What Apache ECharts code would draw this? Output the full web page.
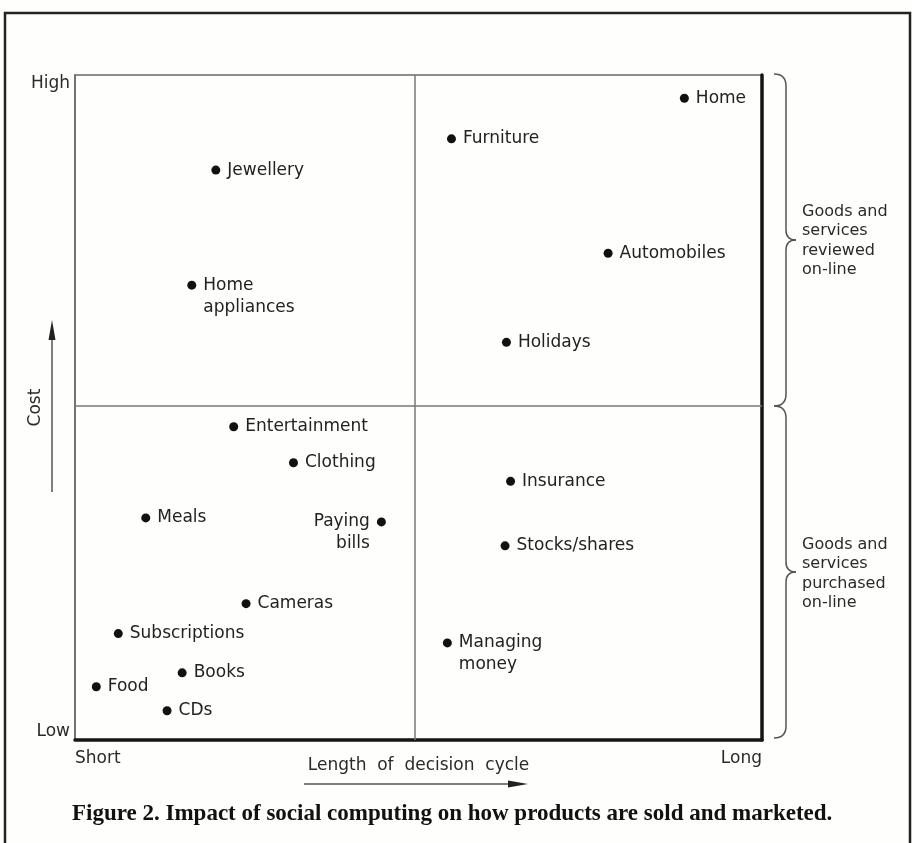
<!DOCTYPE html>
<html>
<head>
<meta charset="utf-8">
<script src="https://cdn.jsdelivr.net/npm/echarts@6/dist/echarts.min.js"></script>
<style>
  html, body { margin: 0; padding: 0; background: #fefefd; }
  #main { width: 912px; height: 843px; }
</style>
</head>
<body>
<div id="main"></div>
<script>
// products and where they sit (0-100 on both axes)
const names = ['Home', 'Furniture', 'Jewellery', 'Automobiles', 'Home\nappliances', 'Holidays',
  'Entertainment', 'Clothing', 'Insurance', 'Meals', 'Paying\nbills', 'Stocks/shares',
  'Cameras', 'Subscriptions', 'Managing\nmoney', 'Books', 'Food', 'CDs'];
const lengthVals = [88.7, 54.8, 20.5, 77.6, 17.0, 62.8, 23.1, 31.8, 63.4, 10.3, 44.6, 62.6, 24.9, 6.3, 54.2, 15.6, 3.1, 13.4];
const costVals = [96.5, 90.4, 85.7, 73.2, 68.4, 59.8, 47.1, 41.7, 38.9, 33.4, 32.8, 29.2, 20.5, 16.0, 14.6, 10.1, 8.0, 4.4];
const xTicks = ['Short', 'Long'];
const yTicks = ['Low', 'High'];
const groupLabels = ['Goods and\nservices\nreviewed\non-line', 'Goods and\nservices\npurchased\non-line'];
const caption = 'Figure 2. Impact of social computing on how products are sold and marketed.';

const FONT = '"DejaVu Sans", sans-serif';
const leftSide = ['Paying\nbills'];

let chart = echarts.init(document.getElementById('main'));

let points = names.map((n, i) => {
  let item = { name: n, value: [lengthVals[i], costVals[i]] };
  let twoLines = n.indexOf('\n') >= 0;
  item.label = {
    position: leftSide.includes(n) ? 'left' : 'right',
    offset: [0, twoLines ? 11 : 0]
  };
  return item;
});

// curly brace built from lines and curves, top..bottom at x
function brace(top, bottom, x) {
  let mid = (top + bottom) / 2;
  let st = { fill: 'none', stroke: '#555', lineWidth: 1.5 };
  return [
    { type: 'bezierCurve', shape: { x1: x - 12, y1: top, x2: x, y2: top + 12, cpx1: x, cpy1: top }, style: st },
    { type: 'line', shape: { x1: x, y1: top + 12, x2: x, y2: mid - 10 }, style: st },
    { type: 'bezierCurve', shape: { x1: x, y1: mid - 10, x2: x + 10, y2: mid, cpx1: x, cpy1: mid }, style: st },
    { type: 'bezierCurve', shape: { x1: x + 10, y1: mid, x2: x, y2: mid + 10, cpx1: x, cpy1: mid }, style: st },
    { type: 'line', shape: { x1: x, y1: mid + 10, x2: x, y2: bottom - 12 }, style: st },
    { type: 'bezierCurve', shape: { x1: x, y1: bottom - 12, x2: x - 12, y2: bottom, cpx1: x, cpy1: bottom }, style: st }
  ];
}

let option = {
  backgroundColor: '#fefefd',
  animation: false,
  grid: { left: 75, top: 75, right: 150, bottom: 103, show: true, borderColor: '#6a6a6a', borderWidth: 1.5 },
  xAxis: {
    type: 'value', min: 0, max: 100, interval: 100,
    splitLine: { show: false },
    axisTick: { show: false },
    axisLine: { show: true, lineStyle: { color: '#151515', width: 3.5 } },
    axisLabel: {
      color: '#2a2a2a', fontFamily: FONT, fontSize: 17, margin: 10,
      alignMinLabel: 'left', alignMaxLabel: 'right',
      formatter: v => v === 0 ? xTicks[0] : xTicks[1]
    },
    name: 'Length  of  decision  cycle', nameLocation: 'middle', nameGap: 17, nameMoveOverlap: false,
    nameTextStyle: { color: '#2a2a2a', fontFamily: FONT, fontSize: 17 }
  },
  yAxis: [{
    type: 'value', min: 0, max: 100, interval: 100, position: 'left',
    splitLine: { show: false },
    axisTick: { show: false },
    axisLine: { show: true, lineStyle: { color: '#6a6a6a', width: 1.5 } },
    axisLabel: {
      color: '#2a2a2a', fontFamily: FONT, fontSize: 17, margin: 5,
      verticalAlignMinLabel: 'bottom', verticalAlignMaxLabel: 'top',
      formatter: v => v === 0 ? yTicks[0] : yTicks[1]
    },
    name: 'Cost', nameLocation: 'middle', nameGap: 31, nameRotate: 90, nameMoveOverlap: false,
    nameTextStyle: { color: '#2a2a2a', fontFamily: FONT, fontSize: 17 }
  }, {
    type: 'value', min: 0, max: 100, interval: 100, position: 'right',
    splitLine: { show: false }, axisTick: { show: false }, axisLabel: { show: false },
    axisLine: { show: true, lineStyle: { color: '#151515', width: 3.5 } }
  }],
  series: [{
    type: 'scatter',
    data: points,
    symbolSize: 9,
    itemStyle: { color: '#111', opacity: 1 },
    label: {
      show: true, formatter: '{b}', distance: 7,
      color: '#222', fontFamily: FONT, fontSize: 17, lineHeight: 22
    },
    markLine: {
      silent: true, symbol: 'none',
      label: { show: false },
      lineStyle: { color: '#777', width: 1.5, type: 'solid', opacity: 1 },
      data: [{ xAxis: 49.5 }, { yAxis: 50.3 }]
    }
  }],
  graphic: [
    // outer frame
    { type: 'rect', shape: { x: 5, y: 13, width: 905, height: 845 }, style: { fill: 'none', stroke: '#222', lineWidth: 2.5 }, silent: true },
    // cost arrow
    { type: 'line', shape: { x1: 52, y1: 492, x2: 52, y2: 335 }, style: { stroke: '#555', lineWidth: 1.5 } },
    { type: 'polygon', shape: { points: [[52, 320], [48.5, 340], [55.5, 340]] }, style: { fill: '#222' } },
    // length arrow
    { type: 'line', shape: { x1: 304, y1: 784, x2: 512, y2: 784 }, style: { stroke: '#555', lineWidth: 1.5 } },
    { type: 'polygon', shape: { points: [[528, 784], [508, 780.5], [508, 787.5]] }, style: { fill: '#222' } },
    // braces
    ...brace(74, 406, 786),
    ...brace(406, 738, 786),
    { type: 'text', left: 802, top: 202, style: { text: groupLabels[0], fill: '#2a2a2a', font: '16px ' + FONT, lineHeight: 19.5 } },
    { type: 'text', left: 802, top: 535, style: { text: groupLabels[1], fill: '#2a2a2a', font: '16px ' + FONT, lineHeight: 19.5 } },
    // caption
    { type: 'text', left: 72, top: 803, style: { text: caption, fill: '#111', font: 'bold 23px "Liberation Serif", serif' } }
  ]
};

chart.setOption(option);
</script>
</body>
</html>
